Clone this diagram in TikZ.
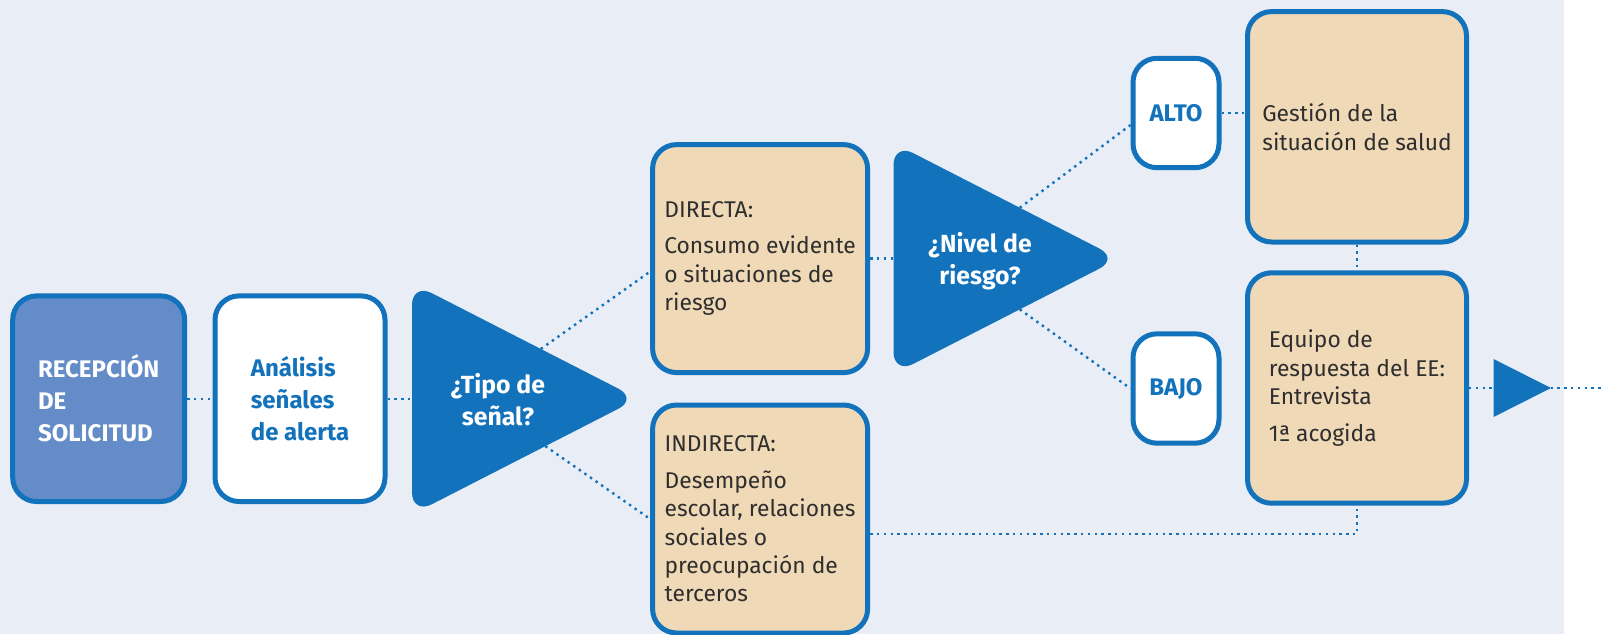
\documentclass[tikz,border=0pt]{standalone}
\usepackage{fontspec}
\setmainfont{Fira Sans}
\usetikzlibrary{calc}
\definecolor{azul}{HTML}{1272BB}
\definecolor{azulclaro}{HTML}{638CC8}
\definecolor{beige}{HTML}{F0D9B7}
\definecolor{fondo}{HTML}{E9EDF5}
\definecolor{texto}{HTML}{2E2E2E}

\begin{document}
\begin{tikzpicture}[x=0.5pt,y=-0.5pt,
		caja/.style={draw=azul, line width=2.5pt, rounded corners=12pt, align=left, inner sep=0pt},
		cajaazul/.style={caja, fill=azulclaro, text=white, font=\bfseries\fontsize{12}{16}\selectfont, minimum width=86pt, minimum height=102.8pt},
		cajablanca/.style={caja, fill=white, text=azul, font=\bfseries\fontsize{12}{16}\selectfont},
		cajabeige/.style={caja, fill=beige, text=texto, font=\fontsize{11.4}{14.2}\selectfont},
		pregunta/.style={text=white, align=center, font=\bfseries\fontsize{12.4}{16}\selectfont},
		triangulo/.style={fill=azul, rounded corners=11pt},
		enlace/.style={azul, line width=1.2pt, dash pattern=on 1.2pt off 2.2pt}]
			\fill[fondo] (0,0) rectangle (1564,634);
			\useasboundingbox (0,0) rectangle (1603,634);
			
			\coordinate (t1) at (412,283);
			\coordinate (t2) at (638,398.7);
			\coordinate (t3) at (412,514.4);
			\coordinate (n1) at (893.5,143);
			\coordinate (n2) at (1119,258.6);
			\coordinate (n3) at (893.5,374);
			\coordinate (tipo-w) at (412,398.7);
			\coordinate (tipo-ne) at ($(t1)!0.57!(t2)$);
			\coordinate (tipo-se) at ($(t3)!0.59!(t2)$);
			\coordinate (nivel-w) at (893.5,258.6);
			\coordinate (nivel-ne) at ($(n1)!0.56!(n2)$);
			\coordinate (nivel-se) at ($(n3)!0.56!(n2)$);
			\coordinate (salida) at (1603,388);
			
			\fill[triangulo] (t1) -- (t2) -- (t3) -- cycle;
			\fill[triangulo] (n1) -- (n2) -- (n3) -- cycle;
			\node[pregunta] (tipo) at (498,400) {¿Tipo de\\señal?};
			\node[pregunta] (nivel) at (980,261) {¿Nivel de\\riesgo?};
			
			\node[cajaazul] (rec) at (98.7,398.7) {RECEPCIÓN\\DE\\SOLICITUD};
			\node[cajablanca, minimum width=85pt, minimum height=102.8pt] (ana) at (300,398.7) {Análisis\\señales\\de alerta};
			\node[cajabeige, minimum width=107.5pt, minimum height=114pt] (dir) at (760.1,258.6) {DIRECTA:\\[4pt]Consumo evidente\\o situaciones de\\riesgo};
			\node[cajabeige, minimum width=107.5pt, minimum height=114pt] (ind) at (760.1,519) {INDIRECTA:\\[4pt]Desempeño\\escolar, relaciones\\sociales o\\preocupación de\\terceros};
			\node[cajablanca, minimum width=43pt, minimum height=54.7pt, align=center] (alto) at (1176,113) {ALTO};
			\node[cajablanca, minimum width=43pt, minimum height=54.7pt, align=center] (bajo) at (1176,388.5) {BAJO};
			\node[cajabeige, minimum width=109.5pt, minimum height=115.2pt] (ges) at (1357,126.8) {Gestión de la\\situación de salud};
			\node[cajabeige, minimum width=109.5pt, minimum height=115.2pt] (equ) at (1357,388) {Equipo de\\respuesta del EE:\\Entrevista\\[4pt]1ª acogida};
			
			\draw[enlace] (rec) -- (ana);
			\draw[enlace] (ana) -- (tipo-w);
			\draw[enlace] (tipo-ne) -- ([yshift=-6.5pt]dir.west);
			\draw[enlace] (tipo-se) -- (ind.west);
			\draw[enlace] (dir) -- (nivel-w);
			\draw[enlace] (nivel-ne) -- ([yshift=-6pt]alto.west);
			\draw[enlace] (nivel-se) -- (bajo.west);
			\draw[enlace] (alto) -- (alto -| ges.west);
			\draw[enlace] (ges) -- (equ);
			\draw[enlace] ([yshift=-7.5pt]ind.east) -| (equ.south);
			\draw[enlace] (equ) -- (salida);
			\fill[azul] (1493.6,359) -- (1551,388) -- (1493.6,417) -- cycle;
		\end{tikzpicture}
\end{document}
